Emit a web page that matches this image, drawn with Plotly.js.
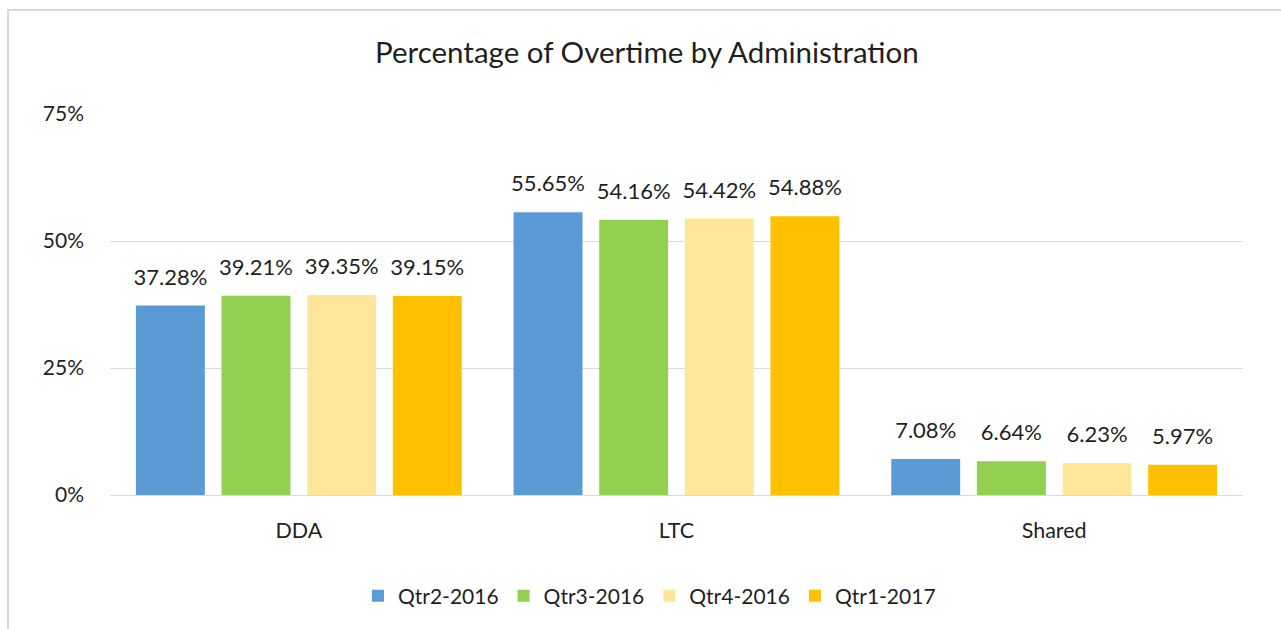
<!DOCTYPE html>
<html>
<head>
<meta charset="utf-8">
<script src="https://cdn.plot.ly/plotly-3.0.1.min.js"></script>
<style>
html,body{margin:0;padding:0;background:#fff;}
#wrap{position:relative;width:1281px;height:629px;overflow:hidden;}
#frame{position:absolute;left:7px;top:9px;width:1300px;height:640px;border:2px solid #d9d9d9;box-sizing:border-box;pointer-events:none;}
#chart{position:absolute;left:0;top:0;width:1281px;height:629px;}
</style>
</head>
<body>
<div id="wrap">
<div id="chart"></div>
<div id="frame"></div>
</div>
<script>
const categories = ["DDA", "LTC", "Shared"];
const seriesNames = ["Qtr2-2016", "Qtr3-2016", "Qtr4-2016", "Qtr1-2017"];
const qtr2_2016 = [37.28, 55.65, 7.08];
const qtr3_2016 = [39.21, 54.16, 6.64];
const qtr4_2016 = [39.35, 54.42, 6.23];
const qtr1_2017 = [39.15, 54.88, 5.97];
const colors = ["#5B9BD5", "#92D050", "#FFE699", "#FFC000"];
const yTicks = [0, 25, 50, 75];

const font = "Lato, 'Open Sans', sans-serif";
const textColor = "#1f1f1f";
const allSeries = [qtr2_2016, qtr3_2016, qtr4_2016, qtr1_2017];

const data = allSeries.map((vals, i) => ({
  type: "bar",
  name: seriesNames[i],
  x: categories,
  y: vals,
  marker: {color: colors[i]},
  text: vals.map(v => v.toFixed(2) + "%"),
  textposition: "outside",
  textfont: {family: font, size: 22, color: textColor},
  constraintext: "none",
  cliponaxis: false,
  hoverinfo: "x+y+name"
}));

const layout = {
  width: 1281,
  height: 629,
  paper_bgcolor: "#fff",
  plot_bgcolor: "#fff",
  margin: {l: 110, r: 38, t: 114, b: 134},
  font: {family: font, color: textColor},
  title: {
    text: "Percentage of Overtime by Administration",
    font: {family: font, size: 29.5, color: textColor},
    x: 0.505, xref: "container", xanchor: "center",
    y: 0.917, yref: "container", yanchor: "middle"
  },
  barmode: "group",
  bargap: 0.093,
  bargroupgap: 0.195,
  xaxis: {
    type: "category",
    showgrid: false,
    showline: true,
    linecolor: "#d9d9d9",
    linewidth: 1,
    ticks: "",
    tickfont: {family: font, size: 21.5, color: textColor},
    ticklabelstandoff: 16
  },
  yaxis: {
    range: [0, 75],
    tickvals: yTicks,
    ticktext: yTicks.map(t => t + "%"),
    showgrid: true,
    gridcolor: "#d9d9d9",
    gridwidth: 1,
    zeroline: false,
    showline: false,
    ticks: "",
    tickfont: {family: font, size: 21, color: textColor},
    ticklabelstandoff: 25
  },
  legend: {
    orientation: "h",
    xref: "container",
    x: 0.507,
    xanchor: "center",
    yref: "container",
    y: 1 - 596/629,
    yanchor: "middle",
    font: {family: font, size: 21, color: textColor},
    itemwidth: 30,
    traceorder: "normal"
  },
  showlegend: true
};

Plotly.newPlot("chart", data, layout, {displayModeBar: false, staticPlot: true}).then(gd => {
  // Excel places its data labels a little higher above the bars than Plotly's default padding
  gd.querySelectorAll("g.point text.bartext").forEach(el => {
    const t = el.getAttribute("transform") || "";
    el.setAttribute("transform", "translate(0,-13) " + t);
  });
});
</script>
</body>
</html>
